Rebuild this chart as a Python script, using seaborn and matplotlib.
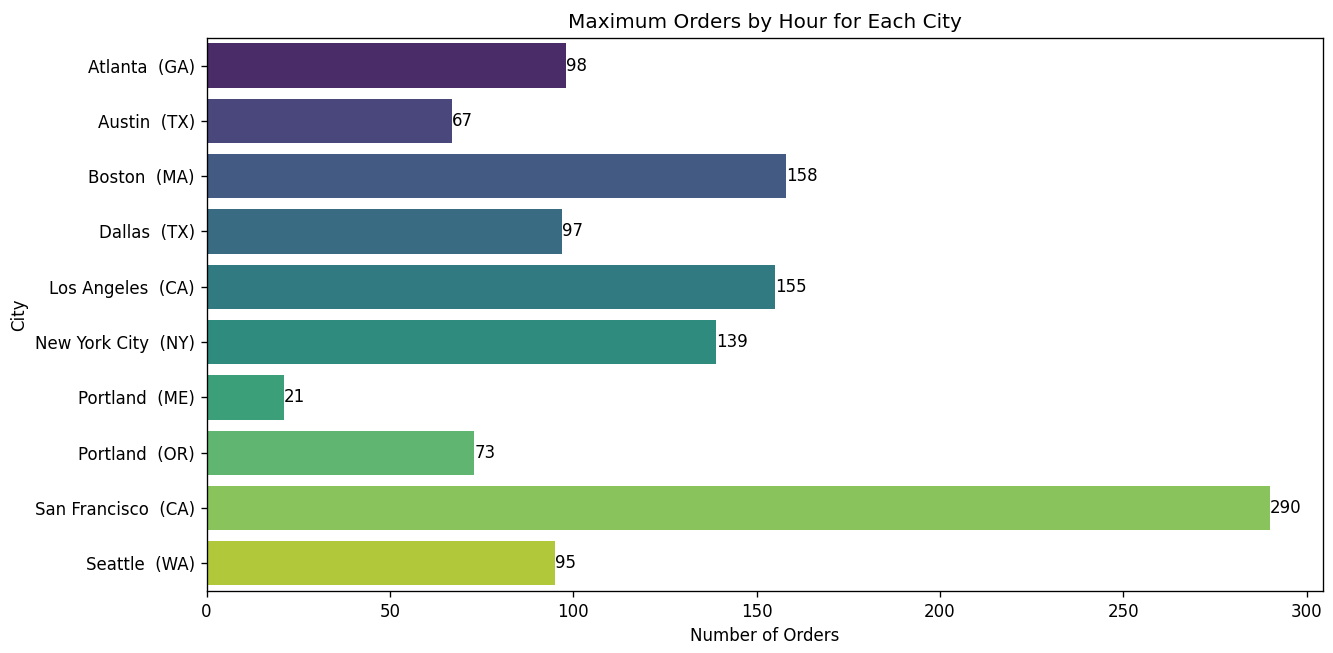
import matplotlib
matplotlib.use("Agg")
import matplotlib.pyplot as plt
import seaborn as sns
import pandas as pd

cities = ["Atlanta  (GA)", "Austin  (TX)", "Boston  (MA)", "Dallas  (TX)",
          "Los Angeles  (CA)", "New York City  (NY)", "Portland  (ME)",
          "Portland  (OR)", "San Francisco  (CA)", "Seattle  (WA)"]
orders = [98, 67, 158, 97, 155, 139, 21, 73, 290, 95]

df = pd.DataFrame({"City": cities, "Number of Orders": orders})

DPI = 120
fig = plt.figure(figsize=(1333 / DPI, 653 / DPI), dpi=DPI)
ax = fig.add_axes([0.155, 0.095, 0.8375, 0.847])
sns.barplot(data=df, y="City", x="Number of Orders", hue="City",
            palette="viridis", legend=False, ax=ax)
for c in ax.containers:
    ax.bar_label(c, fontsize=10)
ax.set_title("Maximum Orders by Hour for Each City", fontsize=12)
ax.set_xlabel("Number of Orders")
ax.set_ylabel("City")
fig.savefig("out.png", dpi=DPI)
